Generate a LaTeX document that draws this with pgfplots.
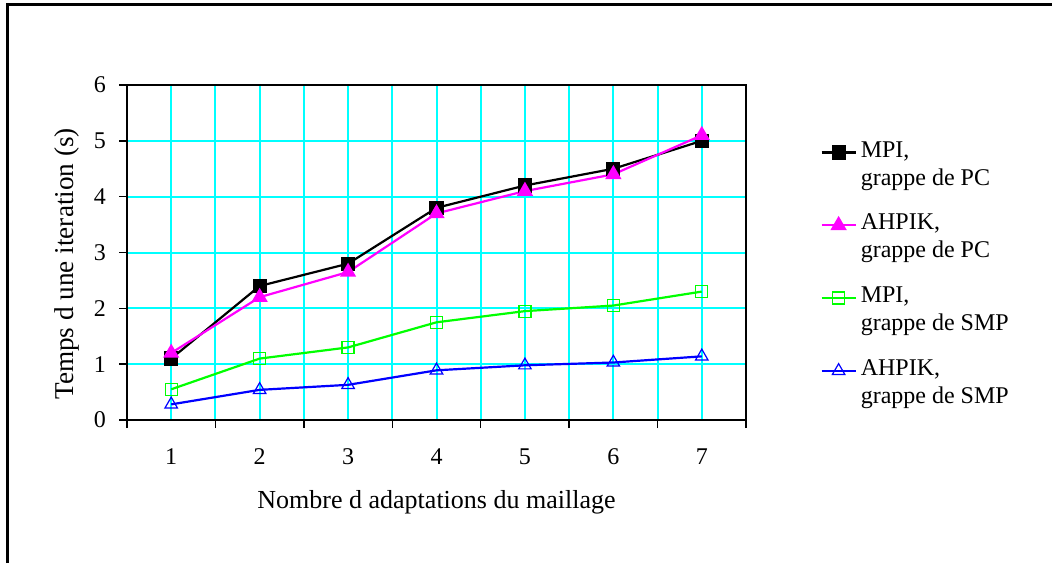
\documentclass[border=0pt]{standalone}
\usepackage{pgfplots}
\pgfplotsset{compat=1.18}
\usepackage{fontspec}
\setmainfont{Liberation Serif}
\definecolor{gridc}{RGB}{0,255,255}
\definecolor{mag}{RGB}{255,0,255}
\definecolor{grn}{RGB}{0,255,0}
\definecolor{blu}{RGB}{0,0,255}
\begin{document}
\begin{tikzpicture}[x=1pt,y=1pt]
\useasboundingbox (0,0) rectangle (526,281.5);
\draw[line width=1.5pt] (3.75,0) -- (3.75,279) -- (526,279);
\begin{axis}[
  at={(63.5pt,71.5pt)}, anchor=south west,
  scale only axis, width=309.5pt, height=167.5pt,
  xmin=0.5, xmax=7.5, ymin=0, ymax=6,
  xtick={0.5,1.5,...,7.5},
  x tick label as interval,
  xticklabels={1,2,3,4,5,6,7},
  minor xtick={1,2,...,7},
  ytick={0,1,...,6},
  tick pos=left,
  xmajorgrids, xminorgrids, ymajorgrids,
  major grid style={gridc, line width=1pt},
  minor grid style={gridc, line width=1pt},
  tick align=outside,
  major tick length=4pt, minor tick length=0pt,
  axis line style={black, line width=0.7pt},
  tick style={black, line width=0.7pt},
  /pgf/number format/assume math mode=true,
  ticklabel style={font=\fontsize{12}{14}\selectfont},
  xticklabel style={yshift=-7pt},
  yticklabel style={xshift=-3pt},
  xlabel={Nombre d adaptations du maillage},
  xlabel style={at={(rel axis cs:0.5,-0.245)}, anchor=center, font=\fontsize{13}{15}\selectfont},
  ylabel={Temps d une iteration (s)},
  ylabel style={at={(rel axis cs:-0.097,0.466)}, anchor=center, font=\fontsize{13.6}{15}\selectfont},
  legend style={at={(rel axis cs:1.1196,0.845)}, anchor=north west, draw=none, fill=none,
    inner sep=0pt, row sep=23pt, font=\fontsize{12}{14}\selectfont, cells={anchor=mid west}},
]
\addplot[black, line width=1.1pt, mark=square*, mark size=3pt, mark options={solid}]
  coordinates {(1,1.1)(2,2.4)(3,2.8)(4,3.8)(5,4.2)(6,4.5)(7,5.0)};
\addlegendentry{\vtop{\hbox{MPI,}\hbox{grappe de PC}}}
\addplot[mag, line width=1.1pt, mark=triangle*, mark size=3.6pt, mark options={solid}]
  coordinates {(1,1.2)(2,2.2)(3,2.65)(4,3.7)(5,4.1)(6,4.4)(7,5.1)};
\addlegendentry{\vtop{\hbox{AHPIK,}\hbox{grappe de PC}}}
\addplot[grn, line width=1.1pt, mark=square, mark size=3pt, mark options={solid, line width=0.6pt}]
  coordinates {(1,0.55)(2,1.1)(3,1.3)(4,1.75)(5,1.95)(6,2.05)(7,2.3)};
\addlegendentry{\vtop{\hbox{MPI,}\hbox{grappe de SMP}}}
\addplot[blu, line width=1.1pt, mark=triangle, mark size=3.6pt, mark options={solid, line width=0.6pt}]
  coordinates {(1,0.28)(2,0.54)(3,0.63)(4,0.89)(5,0.98)(6,1.03)(7,1.14)};
\addlegendentry{\vtop{\hbox{AHPIK,}\hbox{grappe de SMP}}}
\end{axis}
\end{tikzpicture}
\end{document}
